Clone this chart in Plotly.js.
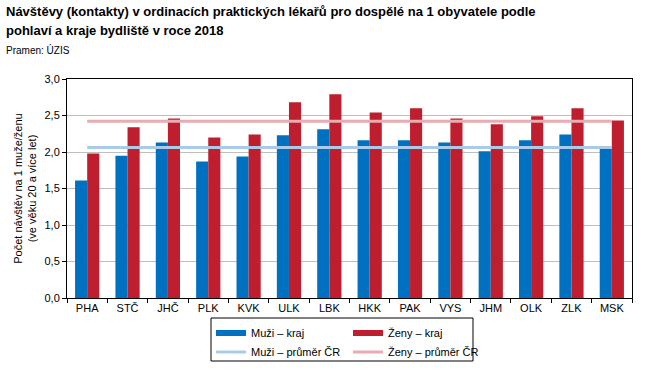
<!DOCTYPE html>
<html>
<head>
<meta charset="utf-8">
<script src="https://cdn.plot.ly/plotly-3.0.1.min.js"></script>
<style>html,body{margin:0;padding:0;background:#fff;}#chart{width:665px;height:381px;}</style>
</head>
<body>
<div id="chart"></div>
<script>
const categories = ["PHA","STČ","JHČ","PLK","KVK","ULK","LBK","HKK","PAK","VYS","JHM","OLK","ZLK","MSK"];
const muziKraj = [1.61,1.95,2.13,1.87,1.94,2.23,2.31,2.16,2.16,2.13,2.01,2.16,2.24,2.05];
const zenyKraj = [1.98,2.34,2.46,2.20,2.24,2.68,2.79,2.54,2.60,2.46,2.38,2.49,2.60,2.43];
const muziPrumerCR = 2.06;
const zenyPrumerCR = 2.42;
const yTicks = [0,0.5,1,1.5,2,2.5,3];

const blue = "#0070c0", red = "#be1e2d", lblue = "#a9cbe8", pink = "#e8acb2";
const font = "Liberation Sans, Arial, sans-serif";

const traces = [
  {type:"bar", x:categories, y:muziKraj, marker:{color:blue}, showlegend:false, hoverinfo:"skip"},
  {type:"bar", x:categories, y:zenyKraj, marker:{color:red}, showlegend:false, hoverinfo:"skip"},
  {type:"scatter", mode:"lines", x:categories, y:categories.map(() => muziPrumerCR), line:{color:lblue, width:3}, showlegend:false},
  {type:"scatter", mode:"lines", x:categories, y:categories.map(() => zenyPrumerCR), line:{color:pink, width:3}, showlegend:false},
  {type:"scatter", mode:"lines", x:[null], y:[null], name:"Muži – kraj", line:{color:blue, width:6}, legend:"legend"},
  {type:"scatter", mode:"lines", x:[null], y:[null], name:"Ženy – kraj", line:{color:red, width:6}, legend:"legend"},
  {type:"scatter", mode:"lines", x:[null], y:[null], name:"Muži – průměr ČR", line:{color:lblue, width:3}, legend:"legend2"},
  {type:"scatter", mode:"lines", x:[null], y:[null], name:"Ženy – průměr ČR", line:{color:pink, width:3}, legend:"legend2"}
];

const L = 67, R = 632, T = 79, B = 298;
const px = v => (v - L) / (R - L);
const py = v => (B - v) / (B - T);

const legendCommon = {orientation:"h", xanchor:"left", yanchor:"middle", entrywidth:92, entrywidthmode:"pixels",
  font:{family:font, size:11, color:"#000"}, bgcolor:"rgba(0,0,0,0)", borderwidth:0, itemclick:false, itemdoubleclick:false};

const layout = {
  width:665, height:381,
  margin:{l:L, r:665-R, t:T, b:381-B, pad:0},
  paper_bgcolor:"#fff", plot_bgcolor:"#fff",
  font:{family:font, size:11, color:"#000"},
  separators:", ",
  barmode:"group", bargap:0.4, bargroupgap:0,
  xaxis:{type:"category", tickson:"boundaries", ticks:"outside", ticklen:4, tickcolor:"#000",
    showline:true, linecolor:"#000", linewidth:1, mirror:true, showgrid:false,
    tickfont:{family:font, size:11, color:"#000"}},
  yaxis:{range:[0,3], tickvals:yTicks, tickformat:".1f", ticks:"outside", ticklen:4, tickcolor:"#000",
    showline:true, linecolor:"#000", linewidth:1, mirror:true, zeroline:false,
    showgrid:true, gridcolor:"#bfbfbf", gridwidth:1,
    tickfont:{family:font, size:11, color:"#000"},
    title:{text:"Počet návštěv na 1 muže/ženu<br>(ve věku 20 a více let)", font:{family:font, size:11, color:"#000"}, standoff:5}},
  legend: Object.assign({x:px(211), y:py(333)}, legendCommon),
  legend2: Object.assign({x:px(211), y:py(352)}, legendCommon),
  shapes:[{type:"rect", xref:"paper", yref:"paper", x0:px(211), x1:px(473), y0:py(361), y1:py(318), line:{color:"#000", width:1}}],
  annotations:[
    {xref:"paper", yref:"paper", x:px(4), y:py(11), xanchor:"left", yanchor:"middle", showarrow:false,
     text:"<b>Návštěvy (kontakty) v ordinacích praktických lékařů pro dospělé na 1 obyvatele podle</b>", font:{family:font, size:13, color:"#000"}},
    {xref:"paper", yref:"paper", x:px(4), y:py(30), xanchor:"left", yanchor:"middle", showarrow:false,
     text:"<b>pohlaví a kraje bydliště v roce 2018</b>", font:{family:font, size:13, color:"#000"}},
    {xref:"paper", yref:"paper", x:px(4), y:py(50), xanchor:"left", yanchor:"middle", showarrow:false,
     text:"Pramen: ÚZIS", font:{family:font, size:10, color:"#000"}}
  ]
};

Plotly.newPlot("chart", traces, layout, {staticPlot:true, displayModeBar:false});
</script>
</body>
</html>
